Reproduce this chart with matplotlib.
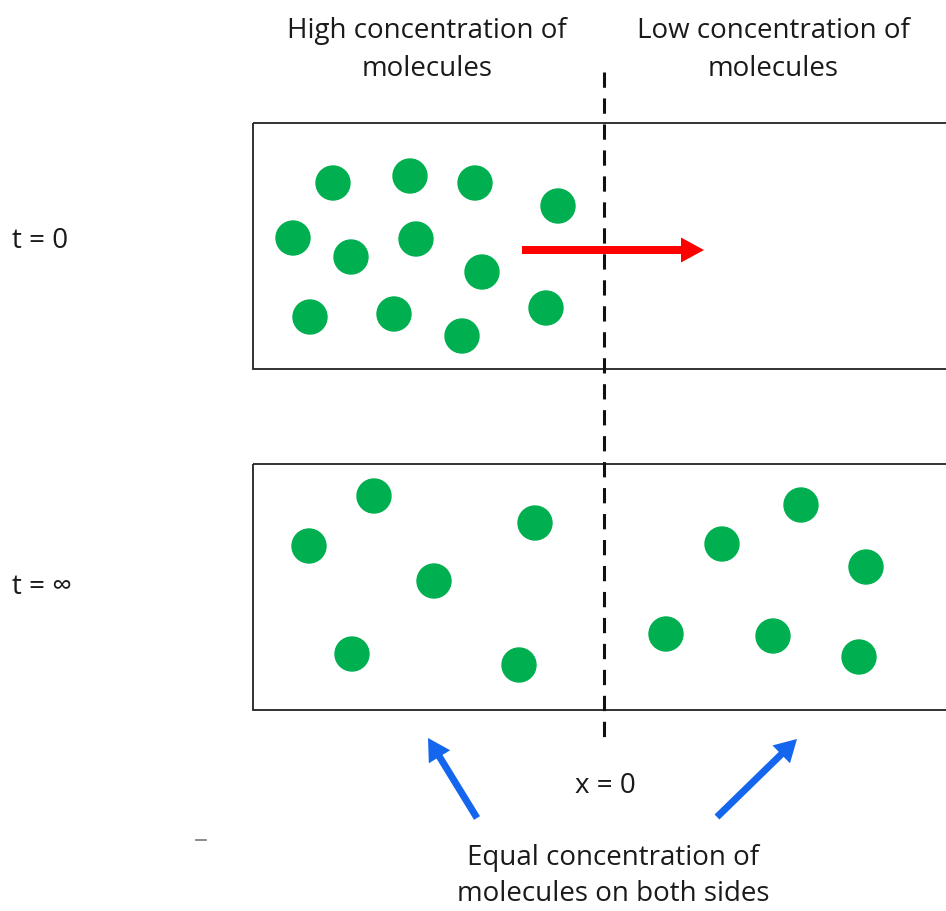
import matplotlib
matplotlib.use("Agg")
import matplotlib.pyplot as plt
from matplotlib.patches import Circle, Rectangle, FancyArrow

# ---- data (pixel-space diagram coordinates) ----
top_mol_x = [333, 410, 475, 558, 293, 416, 351, 482, 310, 394, 462, 546]
top_mol_y = [183, 176, 183, 206, 238, 239, 257, 272, 317, 314, 336, 308]
bot_mol_x = [374, 309, 535, 434, 352, 519, 801, 722, 866, 666, 773, 859]
bot_mol_y = [496, 546, 523, 581, 654, 665, 505, 544, 567, 634, 636, 657]
row_labels = ["t = 0", "t = \u221e"]
header_labels = ["High concentration of\nmolecules", "Low concentration of\nmolecules"]
bottom_label = "Equal concentration of\nmolecules on both sides"
x_label = "x = 0"

W, H = 946, 911
fig = plt.figure(figsize=(W / 100, H / 100), dpi=100)
ax = fig.add_axes([0, 0, 1, 1])
ax.set_xlim(0, W)
ax.set_ylim(H, 0)
ax.axis("off")

FONT = ["Open Sans", "DejaVu Sans"]
FS = 20
TXT = "#1a1a1a"

# boxes
for top, h in [(123, 246), (464, 246)]:
    ax.add_patch(Rectangle((253, top), 760, h, fill=False, ec="#222222", lw=1.3, zorder=2))

# dashed divider
ax.plot([604, 604], [72, 742], color="#111111", lw=2.2, ls=(0, (5, 3.5)), zorder=3)

# molecules
R = 17
GREEN = "#00b050"
for x, y in zip(top_mol_x, top_mol_y):
    ax.add_patch(Circle((x, y), R, color=GREEN, zorder=4))
for x, y in zip(bot_mol_x, bot_mol_y):
    ax.add_patch(Circle((x, y), R, color=GREEN, zorder=4))

# red arrow
ax.add_patch(FancyArrow(522, 250, 182, 0, width=8, head_width=25, head_length=23,
                        length_includes_head=True, color="#ff0000", lw=0, zorder=5))

# blue arrows
BLUE = "#1466ee"
for (x0, y0, x1, y1) in [(477, 818, 428, 738), (717, 817, 797, 739)]:
    ax.add_patch(FancyArrow(x0, y0, x1 - x0, y1 - y0, width=7, head_width=25, head_length=22,
                            length_includes_head=True, color=BLUE, lw=0, zorder=5))

# texts
ax.text(427, 50, header_labels[0], ha="center", va="center", fontsize=FS,
        family=FONT, color=TXT, linespacing=1.5)
ax.text(773, 50, header_labels[1], ha="center", va="center", fontsize=FS,
        family=FONT, color=TXT, linespacing=1.5)
ax.text(12, 241, row_labels[0], ha="left", va="center", fontsize=FS, family=FONT, color=TXT)
ax.text(12, 587, row_labels[1], ha="left", va="center", fontsize=FS, family=FONT, color=TXT)
ax.text(605, 786, x_label, ha="center", va="center", fontsize=FS, family=FONT, color=TXT)
ax.text(613, 876, bottom_label, ha="center", va="center", fontsize=FS,
        family=FONT, color=TXT, linespacing=1.35)

# small stray dash
ax.plot([196, 206], [840, 840], color="#777777", lw=1.2)

fig.savefig("out.png", dpi=100, facecolor="white")
